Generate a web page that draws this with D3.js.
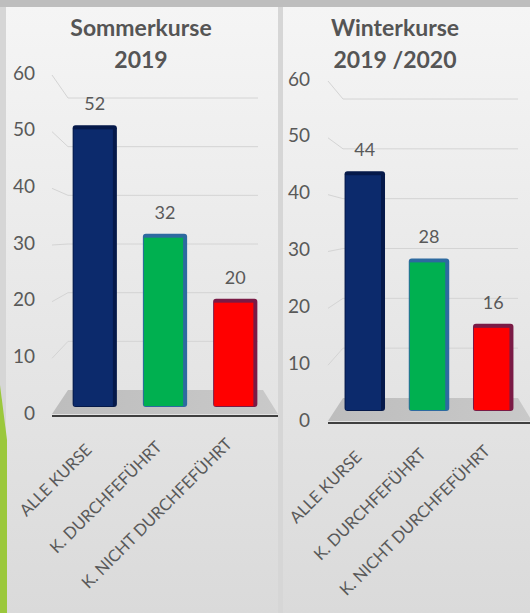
<!DOCTYPE html>
<html>
<head>
<meta charset="utf-8">
<script src="https://cdn.jsdelivr.net/npm/d3@7"></script>
<style>
  body { margin: 0; background: #dcdcdc; }
  text { font-family: Lato, "Open Sans", sans-serif; fill: #595959; }
</style>
</head>
<body>
<div id="container"></div>
<script>
// chart values
const categories = ["ALLE KURSE", "K. DURCHFEFÜHRT", "K. NICHT DURCHFEFÜHRT"];
const sommerValues = [52, 32, 20];
const winterValues = [44, 28, 16];
const yTicks = [0, 10, 20, 30, 40, 50, 60];
const sommerTitle = ["Sommerkurse", "2019"];
const winterTitle = ["Winterkurse", "2019 /2020"];
const barColors = ["#0c2a6c", "#00b050", "#ff0000"];
const barEdges = ["#05194a", "#2d6aa0", "#7a1a45"];

const width = 530, height = 613;

var svg = d3.select('#container')
  .append('svg')
  .attr('width', width)
  .attr('height', height);

// background gradient for the two panels
const defs = svg.append('defs');
const grad = defs.append('linearGradient')
  .attr('id', 'panelGrad')
  .attr('x1', 0).attr('y1', 0).attr('x2', 0).attr('y2', 1);
grad.append('stop').attr('offset', '0%').attr('stop-color', '#f5f5f5');
grad.append('stop').attr('offset', '100%').attr('stop-color', '#dadada');

const floorGrad = defs.append('linearGradient')
  .attr('id', 'floorGrad')
  .attr('x1', 0).attr('y1', 0).attr('x2', 1).attr('y2', 0);
floorGrad.append('stop').attr('offset', '0%').attr('stop-color', '#bdbdbd');
floorGrad.append('stop').attr('offset', '100%').attr('stop-color', '#c9c9c9');

svg.append('rect').attr('width', width).attr('height', height).attr('fill', '#d6d6d6');
svg.append('rect').attr('x', 6).attr('y', 7).attr('width', 272).attr('height', height - 7)
  .attr('fill', 'url(#panelGrad)');
svg.append('rect').attr('x', 283).attr('y', 7).attr('width', 247).attr('height', height - 7)
  .attr('fill', 'url(#panelGrad)');
// top strip
svg.append('rect').attr('width', width).attr('height', 7).attr('fill', '#bebebe');

// green slide decoration on the left
svg.append('polygon')
  .attr('points', '0,385 7,440 7,613 0,613')
  .attr('fill', '#9bc83c');

// draws one of the two 3D-looking column charts
function drawPanel(cfg) {
  const g = svg.append('g');

  // scales: front face of side wall (labels), back wall (gridlines), bars
  const yFront = d3.scaleLinear().domain([0, 60]).range(cfg.front);
  const yBack = d3.scaleLinear().domain([0, 60]).range(cfg.back);
  const yBar = d3.scaleLinear().domain([0, 60]).range(cfg.bar);
  const x = d3.scaleBand().domain(categories).range(cfg.xRange)
    .paddingInner(0.37).paddingOuter(0.18);

  // title
  g.selectAll('.title')
    .data(cfg.title)
    .enter()
    .append('text')
    .attr('x', cfg.titleX)
    .attr('y', (d, i) => cfg.titleY + i * 32)
    .attr('text-anchor', 'middle')
    .style('font-size', '23px')
    .style('font-weight', 'bold')
    .style('fill', '#555555')
    .text(d => d);

  // gridlines on back wall + diagonals on side wall
  const grid = yTicks.filter(t => t > 0);
  g.selectAll('.grid')
    .data(grid)
    .enter()
    .append('line')
    .attr('x1', cfg.wallX[1]).attr('x2', cfg.gridEnd)
    .attr('y1', d => yBack(d)).attr('y2', d => yBack(d))
    .attr('stroke', '#d4d4d4').attr('stroke-width', 1);
  g.selectAll('.diag')
    .data(grid)
    .enter()
    .append('line')
    .attr('x1', cfg.wallX[0]).attr('x2', cfg.wallX[1])
    .attr('y1', d => yFront(d)).attr('y2', d => yBack(d))
    .attr('stroke', '#d4d4d4').attr('stroke-width', 1);

  // floor
  g.append('polygon')
    .attr('points', [
      [cfg.wallX[0], yFront(0) - 1],
      [cfg.wallX[1], yBack(0)],
      [cfg.floorRight[0], yBack(0)],
      [cfg.floorRight[1], yFront(0) - 1]
    ].map(p => p.join(',')).join(' '))
    .attr('fill', 'url(#floorGrad)');
  g.append('line')
    .attr('x1', cfg.wallX[0]).attr('x2', cfg.floorRight[1])
    .attr('y1', yFront(0) + 1).attr('y2', yFront(0) + 1)
    .attr('stroke', '#3f3f3f').attr('stroke-width', 2);

  // y tick labels
  g.selectAll('.tick')
    .data(yTicks)
    .enter()
    .append('text')
    .attr('x', cfg.labelX)
    .attr('y', d => yFront(d) - 2)
    .attr('dy', '0.35em')
    .attr('text-anchor', 'end')
    .style('font-size', '19px')
    .text(d => d);

  // bars: darker body for the bevelled top/right edge, then the front face
  const bars = g.selectAll('.bar')
    .data(cfg.values)
    .enter()
    .append('g');
  bars.append('rect')
    .attr('x', (d, i) => x(categories[i]))
    .attr('y', d => yBar(d))
    .attr('width', x.bandwidth())
    .attr('height', d => yBar(0) - yBar(d))
    .attr('rx', 3)
    .attr('fill', (d, i) => barEdges[i]);
  bars.append('rect')
    .attr('x', (d, i) => x(categories[i]) + 1)
    .attr('y', d => yBar(d) + 4)
    .attr('width', x.bandwidth() - 5)
    .attr('height', d => yBar(0) - yBar(d) - 5)
    .attr('fill', (d, i) => barColors[i]);

  // value labels
  g.selectAll('.value')
    .data(cfg.values)
    .enter()
    .append('text')
    .attr('x', (d, i) => x(categories[i]) + x.bandwidth() / 2)
    .attr('y', d => yBar(d) - 15)
    .attr('text-anchor', 'middle')
    .style('font-size', '18px')
    .text(d => d);

  // rotated category labels
  g.selectAll('.cat')
    .data(categories)
    .enter()
    .append('text')
    .attr('transform', (d, i) => {
      const cx = x(d) + x.bandwidth() / 2 - 2;
      const cy = yFront(0) + 36 - i * 3;
      return `translate(${cx},${cy}) rotate(-45)`;
    })
    .attr('text-anchor', 'end')
    .style('font-size', '16.5px')
    .text(d => d);
}

drawPanel({
  values: sommerValues,
  title: sommerTitle,
  titleX: 141, titleY: 36,
  front: [415, 75],
  back: [390, 98],
  bar: [407, 82],
  xRange: [60, 270],
  wallX: [52, 68],
  gridEnd: 258,
  floorRight: [263, 278],
  labelX: 35
});

drawPanel({
  values: winterValues,
  title: winterTitle,
  titleX: 395, titleY: 36,
  front: [422, 81],
  back: [398, 99],
  bar: [411, 84],
  xRange: [333, 525],
  wallX: [328, 343],
  gridEnd: 518,
  floorRight: [518, 532],
  labelX: 310
});
</script>
</body>
</html>
